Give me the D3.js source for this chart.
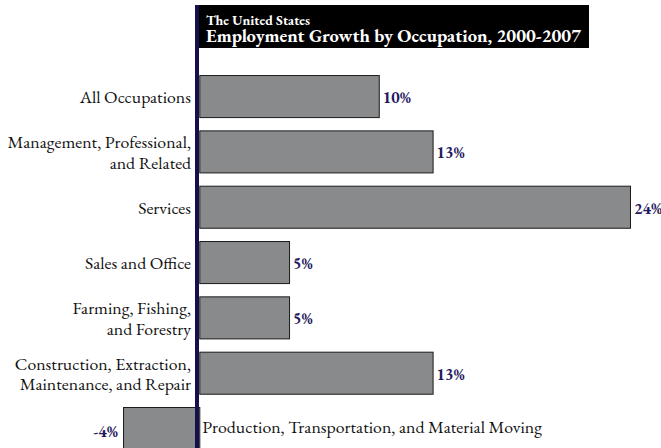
<!DOCTYPE html>
<html lang="en">
<head>
    <meta charset="UTF-8">
    <title>Employment Growth by Occupation</title>
    <style>
        body {
            margin: 0;
            background-color: #ffffff;
        }
        svg {
            display: block;
        }
        .cat {
            font-family: "EB Garamond", Garamond, "Liberation Serif", serif;
            font-size: 17.8px;
            fill: #111;
        }
        .val {
            font-family: "EB Garamond", Garamond, "Liberation Serif", serif;
            font-size: 16px;
            font-weight: bold;
            fill: #1f1a5e;
        }
        .bar {
            fill: #898a8c;
            stroke: #1b1b1b;
            stroke-width: 1px;
        }
    </style>
</head>
<body>
<script src="https://d3js.org/d3.v7.min.js"></script>
<script>
    var width = 661,
        height = 448;

    // categories, one entry per bar, split into label lines
    var categories = [
        ["All Occupations"],
        ["Management, Professional,", "and Related"],
        ["Services"],
        ["Sales and Office"],
        ["Farming, Fishing,", "and Forestry"],
        ["Construction, Extraction,", "Maintenance, and Repair"],
        ["Production, Transportation, and Material Moving"]
    ];
    // growth 2000-2007, percent
    var values = [10, 13, 24, 5, 5, 13, -4.25];

    var titleSmall = "The United States";
    var titleBig = "Employment Growth by Occupation, 2000-2007";

    var svg = d3.select("body").append("svg")
        .attr("width", width)
        .attr("height", height);

    var y = d3.scaleBand()
        .domain(d3.range(categories.length))
        .range([68.4, 455.7])
        .paddingInner(0.24)
        .paddingOuter(0.12);

    var x = d3.scaleLinear()
        .domain([0, 24])
        .range([199.3, 630]);

    var data = values.map(function(v, i) {
        return {lines: categories[i], value: v, i: i};
    });

    // bars
    svg.selectAll(".bar")
        .data(data)
        .enter().append("rect")
        .attr("class", "bar")
        .attr("x", d => Math.min(x(0), x(d.value)) + 0.5)
        .attr("y", d => y(d.i) + 0.5)
        .attr("width", d => Math.abs(x(d.value) - x(0)))
        .attr("height", y.bandwidth());

    // value labels
    svg.selectAll(".val")
        .data(data)
        .enter().append("text")
        .attr("class", "val")
        .attr("text-anchor", d => d.value < 0 ? "end" : "start")
        .attr("x", d => d.value < 0 ? x(d.value) - 5 : x(d.value) + 4)
        .attr("y", d => y(d.i) + y.bandwidth() / 2 + (d.value < 0 ? 9 : 7))
        .text(d => Math.round(d.value) + "%");

    // category labels: left of axis for positive bars, right of axis for negative
    var cats = svg.selectAll(".cat")
        .data(data)
        .enter().append("text")
        .attr("class", "cat")
        .attr("text-anchor", d => d.value < 0 ? "start" : "end")
        .attr("x", d => d.value < 0 ? x(0) + 3 : 191)
        .attr("y", d => y(d.i) + y.bandwidth() / 2 + (d.value < 0 ? 5 : 7));

    cats.selectAll("tspan")
        .data(d => d.lines.map(function(l, j) { return {t: l, j: j, n: d.lines.length}; }))
        .enter().append("tspan")
        .attr("x", function() { return d3.select(this.parentNode).attr("x"); })
        .attr("dy", d => d.j === 0 ? (-(d.n - 1) * 10) + "px" : "20.5px")
        .text(d => d.t);

    // title box
    svg.append("rect")
        .attr("x", 199)
        .attr("y", 5)
        .attr("width", 390)
        .attr("height", 43)
        .attr("fill", "#000");

    svg.append("text")
        .attr("x", 206)
        .attr("y", 24.5)
        .style("font-family", "\"EB Garamond\", Garamond, \"Liberation Serif\", serif")
        .style("font-size", "13.8px")
        .style("font-weight", "bold")
        .style("fill", "#fff")
        .text(titleSmall);

    var big = svg.append("text")
        .attr("x", 206)
        .attr("y", 42)
        .style("font-family", "\"EB Garamond\", Garamond, \"Liberation Serif\", serif")
        .style("font-size", "19px")
        .style("font-weight", "bold")
        .style("fill", "#fff")
        .text(titleBig);

    // fit the big title to the width seen in the original
    big.attr("textLength", 375).attr("lengthAdjust", "spacingAndGlyphs");

    // axis line at zero
    svg.append("line")
        .attr("x1", 197)
        .attr("x2", 197)
        .attr("y1", 5)
        .attr("y2", height)
        .attr("stroke", "#15104c")
        .attr("stroke-width", 4);
</script>
</body>
</html>
